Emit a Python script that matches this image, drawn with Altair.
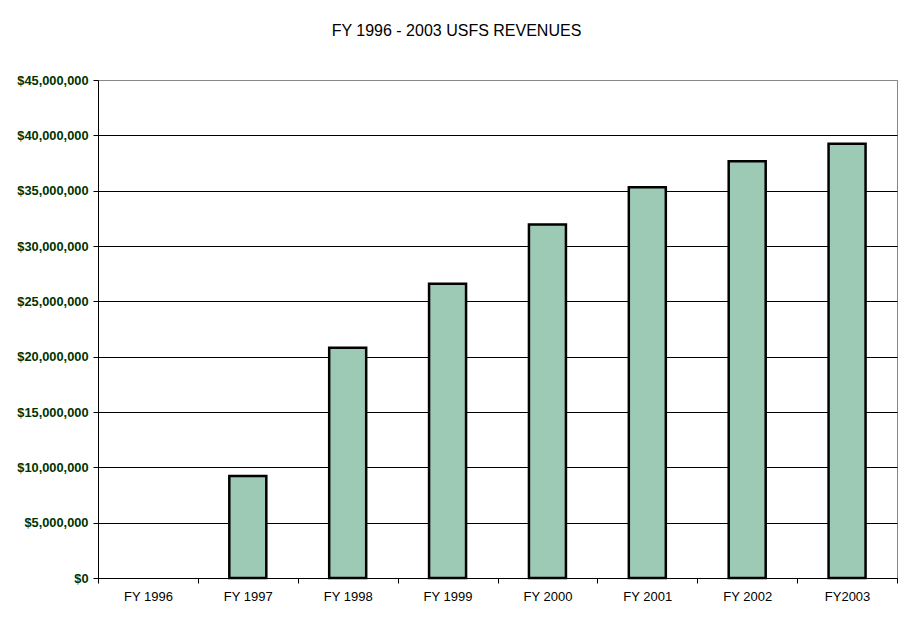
import altair as alt
import pandas as pd

years = ["FY 1996", "FY 1997", "FY 1998", "FY 1999", "FY 2000", "FY 2001", "FY 2002", "FY2003"]
revenues = [None, 9220000, 20800000, 26600000, 31950000, 35300000, 37650000, 39250000]
title_text = "FY 1996 - 2003 USFS REVENUES"

df = pd.DataFrame({"year": years, "revenue": revenues})

bars = alt.Chart(df).mark_bar(
    size=37, fill="#9ccab5", stroke="black", strokeWidth=2.5
).encode(
    x=alt.X("year:N", sort=years, scale=alt.Scale(domain=years, paddingInner=0, paddingOuter=0),
            axis=alt.Axis(title=None, labelAngle=0, labelFont="Liberation Sans", labelFontSize=13,
                          labelColor="black", domainColor="black", tickColor="black",
                          tickSize=5, tickBand="extent", labelPadding=7, grid=False)),
    y=alt.Y("revenue:Q", scale=alt.Scale(domain=[0, 45000000], nice=False),
            axis=alt.Axis(title=None, values=list(range(0, 45000001, 5000000)), format="$,.0f",
                          labelFont="Liberation Sans", labelFontSize=12.8, labelFontWeight="bold",
                          labelColor="#003300", domainColor="black", tickColor="black",
                          tickSize=5, labelPadding=5, grid=True,
                          gridColor={"condition": {"test": "datum.value === 45000000", "value": "#888888"},
                                     "value": "black"},
                          gridWidth=1)),
)

chart = bars.properties(
    width=799, height=498,
    title=alt.TitleParams(title_text, font="Liberation Sans", fontSize=16, fontWeight="normal",
                          color="black", anchor="middle", dx=-41, offset=35),
    autosize=alt.AutoSizeParams(type="none"),
    padding={"left": 90, "top": 72, "right": 8, "bottom": 30},
    background="white",
).configure_view(stroke="#888888", strokeWidth=1)

chart.save("out.html", embed_options={"renderer": "svg", "actions": False})
